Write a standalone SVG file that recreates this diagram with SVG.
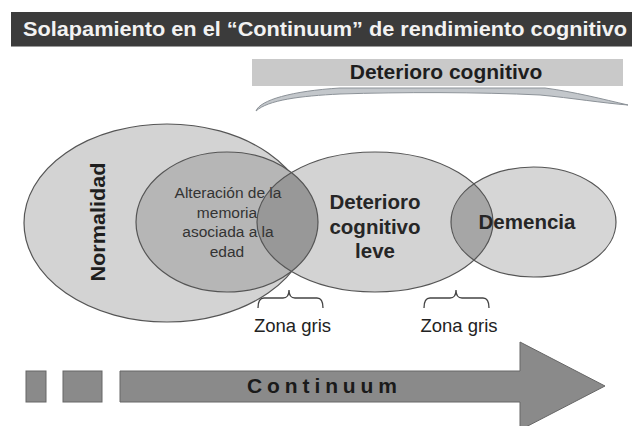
<svg xmlns="http://www.w3.org/2000/svg" width="632" height="426" viewBox="0 0 632 426">
<style>
  .t { font-family: "Liberation Sans", Arial, sans-serif; }
  .b { font-weight: bold; }
  .ol { fill: none; stroke: #555; stroke-width: 1.2; }
  .br { fill: none; stroke: #444; stroke-width: 1.3; }
  .zg { font-size: 18.5px; fill: #222; text-anchor: middle; }
  .alt { font-size: 15.5px; fill: #333; text-anchor: middle; }
  .big { font-size: 20.5px; fill: #262626; text-anchor: middle; font-weight: bold; }
  .shape { fill: #8a8a8a; stroke: #666; stroke-width: 1; }
</style>
<defs>
  <clipPath id="clipDCL"><ellipse cx="375" cy="222" rx="118" ry="70"/></clipPath>
</defs>
<rect width="632" height="426" fill="#ffffff"/>

<g id="title">
  <rect x="11" y="12" width="621" height="34" fill="#3b3b3b"/>
  <line x1="11" y1="46.5" x2="632" y2="46.5" stroke="#9a9a9a" stroke-width="1"/>
  <text class="t b" x="23" y="36" font-size="20" fill="#f2f2f2" textLength="604" lengthAdjust="spacingAndGlyphs">Solapamiento en el “Continuum” de rendimiento cognitivo</text>
</g>

<g id="deterioro-cognitivo">
  <rect x="252" y="59" width="371" height="27" fill="#c9c9c9"/>
  <text class="t b" x="446" y="79" font-size="21" fill="#1e1e1e" text-anchor="middle">Deterioro cognitivo</text>
  <path d="M256,111 C260,100 292,91 340,88 L545,88 C575,92 602,99 628,105 C602,103 572,98 540,95 C480,92 400,92 340,94 C300,96 268,100 256,111 Z" fill="#c3c7cb" stroke="#8c9298" stroke-width="1"/>
</g>

<g id="fills">
  <ellipse id="normalidad-fill" cx="167" cy="223" rx="143" ry="99" fill="#d3d3d3" stroke="#555" stroke-width="1.2"/>
  <ellipse cx="227" cy="222" rx="91" ry="70" fill="#b6b6b6"/>
  <ellipse cx="375" cy="222" rx="118" ry="70" fill="#d3d3d3"/>
  <ellipse cx="533.5" cy="222" rx="82.5" ry="55" fill="#d6d6d6"/>
  <ellipse cx="227" cy="222" rx="91" ry="70" fill="#989898" clip-path="url(#clipDCL)"/>
  <ellipse cx="533.5" cy="222" rx="82.5" ry="55" fill="#a6a6a6" clip-path="url(#clipDCL)"/>
</g>

<g id="normalidad">
  <text class="t b" transform="translate(105,222) rotate(-90)" font-size="21" fill="#1e1e1e" text-anchor="middle" textLength="119" lengthAdjust="spacingAndGlyphs">Normalidad</text>
</g>

<g id="alteracion">
  <ellipse class="ol" cx="227" cy="222" rx="91" ry="70"/>
  <text class="t alt" x="228" y="198">Alteración de la</text>
  <text class="t alt" x="227" y="217.5">memoria</text>
  <text class="t alt" x="228" y="237">asociada a la</text>
  <text class="t alt" x="227" y="256.5">edad</text>
</g>

<g id="dcl">
  <ellipse class="ol" cx="375" cy="222" rx="118" ry="70"/>
  <text class="t big" x="375" y="209">Deterioro</text>
  <text class="t big" x="375" y="234">cognitivo</text>
  <text class="t big" x="375" y="258">leve</text>
</g>

<g id="demencia">
  <ellipse class="ol" cx="533.5" cy="222" rx="82.5" ry="55"/>
  <text class="t big" x="527" y="229">Demencia</text>
</g>

<g id="connectors">
  <path class="br" d="M258,308 Q258,298 264,298 L283,298 Q289,298 289,290 Q289,298 295,298 L317,298 Q323,298 323,308"/>
  <path class="br" d="M424,308 Q424,298 430,298 L450,298 Q456,298 456,290 Q456,298 462,298 L483,298 Q489,298 489,308"/>
</g>

<g id="zona-gris-1">
  <text class="t zg" x="292.5" y="332">Zona gris</text>
</g>
<g id="zona-gris-2">
  <text class="t zg" x="459" y="332">Zona gris</text>
</g>

<g id="continuum">
  <rect class="shape" x="26" y="371" width="20" height="31"/>
  <rect class="shape" x="63" y="371" width="39" height="31"/>
  <path class="shape" d="M120,371 L520,371 L520,342 L605,386 L520,430 L520,402 L120,402 Z"/>
  <text class="t b" x="322" y="393" font-size="21" fill="#1a1a1a" text-anchor="middle" textLength="150" lengthAdjust="spacing">Continuum</text>
</g>
</svg>
